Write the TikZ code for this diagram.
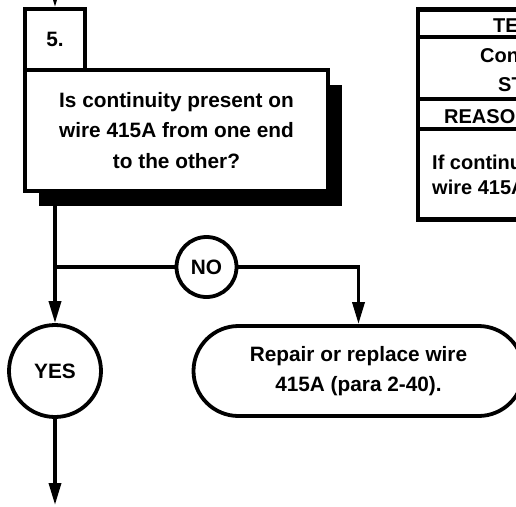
\documentclass[tikz,border=0pt]{standalone}
\usepackage{fontspec}
\setmainfont{Liberation Sans}
\usetikzlibrary{arrows.meta,shadows}
\begin{document}
\begin{tikzpicture}[x=1pt,y=-1pt,
  txt/.style={font=\fontsize{20.8}{30.7}\selectfont\bfseries, align=center},
  box/.style={draw, line width=3.8pt, fill=white, inner sep=0pt, txt},
  conn/.style={line width=3.5pt},
  arr/.style={conn, -{Triangle[length=22pt,width=12pt]}},
  ttxt/.style={font=\fontsize{20}{24}\selectfont\bfseries, anchor=base west, inner sep=0pt},
  rulel/.style={line width=4.5pt}]
\useasboundingbox (0,0) rectangle (516,506);
\clip (0,0) rectangle (516,506);

% main question box with shadow
\node[box, minimum width=303pt, minimum height=121pt,
  drop shadow={shadow xshift=14pt,shadow yshift=-15pt,fill=black,opacity=1}]
  (q) at (176.5,130.5) {Is continuity present on\\wire 415A from one end\\to the other?};
\node[box, minimum width=60pt, minimum height=61pt] (num) at (55,39.5) {5.};

\coordinate (top) at (55,-30);
\draw[arr] (top) -- (num.north);

\node[box, circle, minimum size=60pt] (no) at (206.5,267) {NO};
\node[box, circle, minimum size=92pt] (yes) at (55,371) {YES};
\node[box, rounded corners=45pt, minimum width=330pt, minimum height=90pt]
  (rep) at (358.5,371) {Repair or replace wire\\415A (para 2-40).};

\coordinate (jn) at (55,267);
\coordinate (bot) at (55,505);

\draw[arr] (q.south -| yes.north) -- (yes.north);
\draw[conn] (jn) -- (no);
\draw[arr] (no) -| (rep.north);
\draw[arr] (yes) -- (bot);

% side table
\draw[rulel] (560,9.5) -- (418,9.5) -- (418,219.5) -- (560,219.5);
\draw[rulel] (418,37) -- (560,37);
\draw[rulel] (418,99) -- (560,99);
\draw[rulel] (418,129) -- (560,129);

\node[ttxt] (t1) at (493,32) {TE};
\node[ttxt] (t2) at (480,62) {Con};
\node[ttxt] (t3) at (498,91) {ST};
\node[ttxt] (t4) at (444,123) {REASO};
\node[ttxt] (t5) at (432,169) {If continu};
\node[ttxt] (t6) at (432,194) {wire 415A};
\end{tikzpicture}
\end{document}
